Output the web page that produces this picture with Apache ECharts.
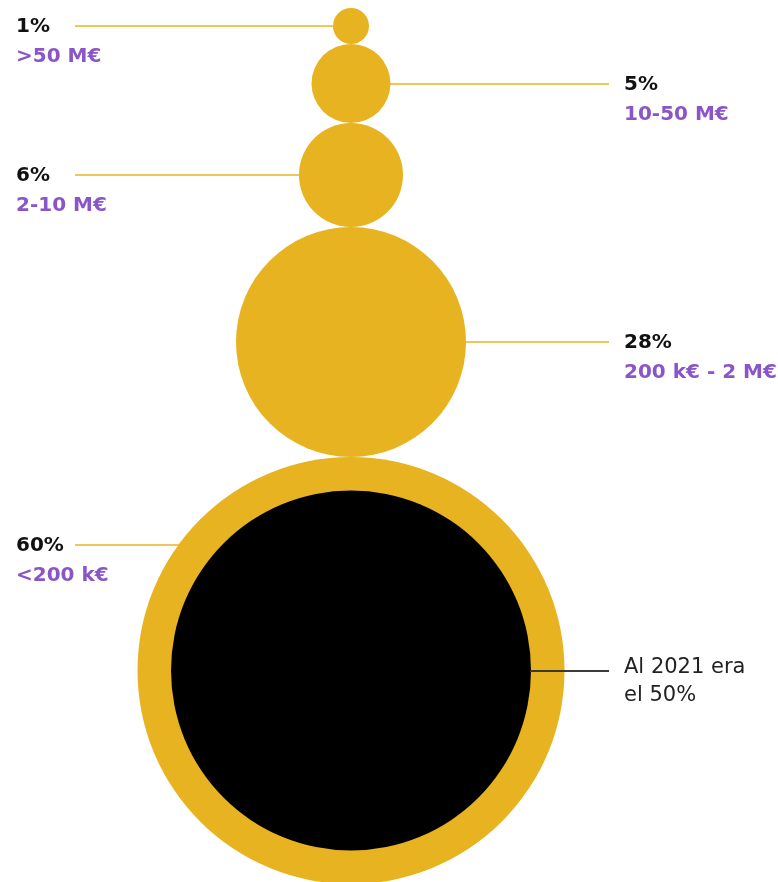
<!DOCTYPE html>
<html>
<head>
<meta charset="utf-8">
<style>
  html, body { margin: 0; padding: 0; background: #ffffff; }
  #chart { width: 778px; height: 882px; }
</style>
<script src="https://cdn.jsdelivr.net/npm/echarts@6/dist/echarts.min.js"></script>
</head>
<body>
<div id="chart"></div>
<script>
// Share of companies by revenue band, smallest band at the bottom
const bands = ['>50 M€', '10-50 M€', '2-10 M€', '200 k€ - 2 M€', '<200 k€'];
const shares = [1, 5, 6, 28, 60];
const previousYear = 2021;
const previousShare = 50;   // share of the <200 k€ band that year

// ---- drawing layout (pixels on the stacking axis) ----
const labelSide = ['left', 'right', 'left', 'right', 'left'];
const bubbleDiameter = [36, 79, 104, 230, 427];
const previousDiameter = 360;
const leaderOffset = [0, 0, 0, 0, -126];   // leader height relative to bubble centre
const columnX = 351;
const stackTop = 8;
const leftTextX = 16, leftLineX = 75;
const rightLineX = 609, rightTextX = 624;

const GOLD = '#E8B320';
const LEADER = '#EBB325';
const PURPLE = '#8A55C8';
const INK = '#111111';
const FONT = '"DejaVu Sans", sans-serif';

// bubbles sit on top of each other: centre = running sum of diameters
const centres = [];
let acc = stackTop;
bubbleDiameter.forEach(d => { centres.push(acc + d / 2); acc += d; });

function renderBubble(params, api) {
  const i = params.dataIndex;
  const c = api.coord([columnX, centres[i]]);
  const r = api.size([0, bubbleDiameter[i]])[1] / 2;
  const dy = api.size([0, leaderOffset[i]])[1] * Math.sign(leaderOffset[i]);
  const y = Math.round(c[1] + dy);
  const dx = Math.sqrt(Math.max(r * r - (y - c[1]) * (y - c[1]), 0));
  const left = labelSide[i] === 'left';
  const lineFrom = left ? api.coord([leftLineX, 0])[0] : c[0] + dx - 1;
  const lineTo = left ? c[0] - dx + 1 : api.coord([rightLineX, 0])[0];
  const textX = api.coord([left ? leftTextX : rightTextX, 0])[0];
  return {
    type: 'group',
    children: [
      { type: 'circle', shape: { cx: c[0], cy: c[1], r: r }, style: { fill: GOLD } },
      { type: 'line', shape: { x1: lineFrom, y1: y, x2: lineTo, y2: y },
        style: { stroke: LEADER, lineWidth: 1.6 } },
      { type: 'text', x: textX, y: y + 1,
        style: { text: api.value(1) + '%', fill: INK, font: 'bold 20px ' + FONT,
                 verticalAlign: 'middle', align: 'left' } },
      { type: 'text', x: textX, y: y + 31,
        style: { text: bands[i], fill: PURPLE, font: 'bold 20px ' + FONT,
                 verticalAlign: 'middle', align: 'left' } }
    ]
  };
}

function renderPrevious(params, api) {
  const last = centres.length - 1;
  const c = api.coord([columnX, centres[last]]);
  const r = api.size([0, previousDiameter])[1] / 2;
  const y = Math.round(c[1]);
  const xEnd = api.coord([rightLineX, 0])[0];
  const textX = api.coord([rightTextX, 0])[0];
  return {
    type: 'group',
    children: [
      { type: 'circle', shape: { cx: c[0], cy: c[1], r: r }, style: { fill: '#000000' } },
      { type: 'line', shape: { x1: c[0] + r - 1, y1: y, x2: xEnd, y2: y },
        style: { stroke: '#3a3a3a', lineWidth: 2 } },
      { type: 'text', x: textX, y: y - 3,
        style: { text: 'Al ' + previousYear + ' era', fill: '#222222',
                 font: 'normal 21px ' + FONT, verticalAlign: 'middle', align: 'left' } },
      { type: 'text', x: textX, y: y + 25,
        style: { text: 'el ' + api.value(1) + '%', fill: '#222222',
                 font: 'normal 21px ' + FONT, verticalAlign: 'middle', align: 'left' } }
    ]
  };
}

const chart = echarts.init(document.getElementById('chart'), null, { renderer: 'canvas' });
chart.setOption({
  animation: false,
  backgroundColor: '#ffffff',
  grid: { left: 0, right: 0, top: 0, bottom: 0 },
  xAxis: { type: 'value', min: 0, max: 778, show: false },
  yAxis: { type: 'value', min: 0, max: 882, inverse: true, show: false },
  series: [
    {
      type: 'custom',
      renderItem: renderBubble,
      data: shares.map((s, i) => [i, s]),
      clip: false,
      z: 2
    },
    {
      type: 'custom',
      renderItem: renderPrevious,
      data: [[shares.length - 1, previousShare]],
      clip: false,
      z: 3
    }
  ]
});
</script>
</body>
</html>
